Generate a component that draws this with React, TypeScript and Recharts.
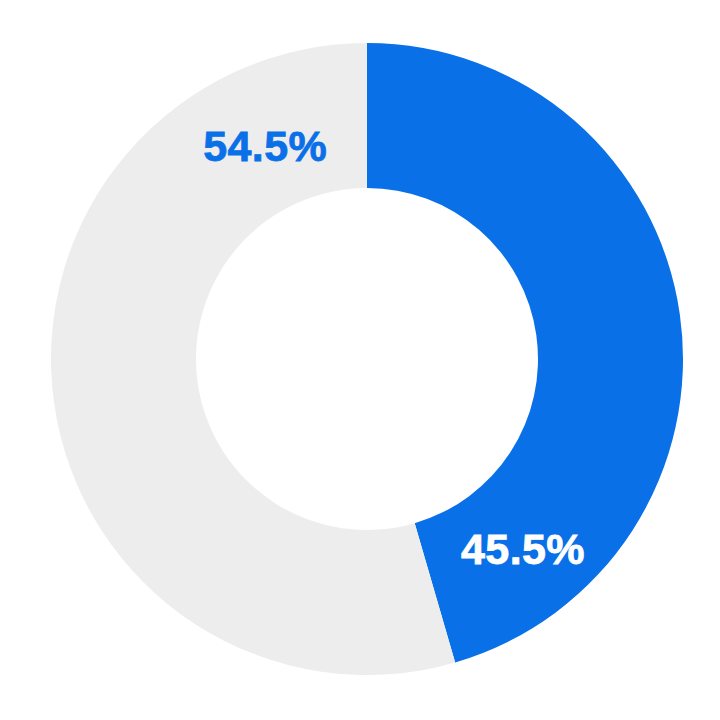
import React from 'react';
import { PieChart, Pie, Cell } from 'recharts';

const names = ['Blue', 'Grey'];
const shares = [45.5, 54.5];
const colors = ['#0a70e8', '#ededed'];
const labelColors = ['#ffffff', '#0a70e8'];

const data = names.map((name, i) => ({ name, value: shares[i] }));

const RADIAN = Math.PI / 180;

const renderLabel = (props: any) => {
  const { cx, cy, innerRadius, outerRadius, startAngle, endAngle, index } = props;
  // labels sit near the trailing end of each slice
  const frac = index === 0 ? 0.858 : 0.87;
  const angle = startAngle + (endAngle - startAngle) * frac;
  const r = (innerRadius + outerRadius) / 2 + (index === 0 ? 2 : -7);
  const x = cx + r * Math.cos(-angle * RADIAN);
  const y = cy + r * Math.sin(-angle * RADIAN);
  return (
    <text
      x={x}
      y={y}
      textAnchor="middle"
      dominantBaseline="central"
      fill={labelColors[index]}
      stroke={labelColors[index]}
      strokeWidth={0.8}
      fontFamily="'Liberation Sans', Arial, sans-serif"
      fontWeight={700}
      fontSize={43}
      letterSpacing={0.4}
    >
      {`${shares[index].toFixed(1)}%`}
    </text>
  );
};

export default function App() {
  return (
    <div style={{ position: 'absolute', left: 0, top: 0, width: 720, height: 720, background: '#fff' }}>
      <PieChart width={720} height={720}>
        <Pie
          data={data}
          dataKey="value"
          nameKey="name"
          cx={362}
          cy={354}
          innerRadius={171}
          outerRadius={316}
          startAngle={90}
          endAngle={-270}
          stroke="none"
          label={renderLabel}
          labelLine={false}
          isAnimationActive={false}
        >
          {data.map((d, i) => (
            <Cell key={d.name} fill={colors[i]} />
          ))}
        </Pie>
      </PieChart>
    </div>
  );
}
